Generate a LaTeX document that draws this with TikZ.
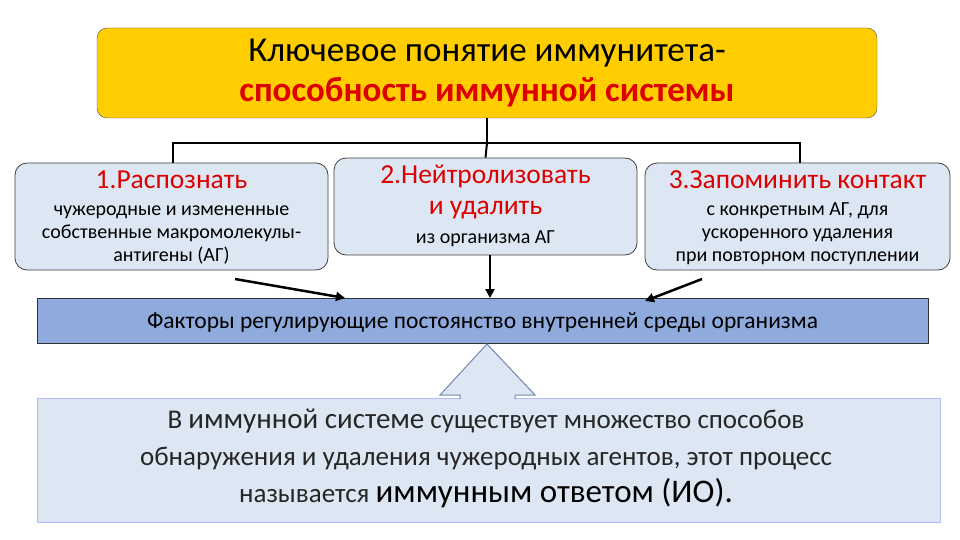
\documentclass[tikz,border=0pt]{standalone}
\usepackage{fontspec}
\setmainfont{Carlito}
\usetikzlibrary{arrows.meta}
\definecolor{ylw}{RGB}{255,205,0}
\definecolor{lb}{RGB}{221,231,243}
\definecolor{bar}{RGB}{143,170,220}
\definecolor{rd}{RGB}{220,0,0}
\begin{document}
\begin{tikzpicture}[x=1pt,y=-1pt,
  cbox/.style={draw=black!75,fill=lb,rounded corners=12pt,line width=0.8pt},
  conn/.style={line width=2pt,black},
  arr/.style={line width=2.5pt,-{Triangle[length=9pt,width=9pt]}}]
\useasboundingbox (0,0) rectangle (960,540);
\node[draw=black!70,fill=ylw,rounded corners=10pt,minimum width=780pt,minimum height=90pt] (top) at (487,73) {};
\node[font=\fontsize{35}{40}\selectfont,align=center] at (487,73) {Ключевое понятие иммунитета-\\ \textcolor{rd}{\textbf{способность иммунной системы}}};
\node[cbox,minimum width=313pt,minimum height=107pt] (b1) at (171.5,216.5) {};
\node[cbox,minimum width=303pt,minimum height=97pt] (b2) at (485.5,206.5) {};
\node[cbox,minimum width=305pt,minimum height=107pt] (b3) at (797.5,216.5) {};
\node[align=center,font=\fontsize{20}{23}\selectfont] at (171.5,218) {\textcolor{rd}{\fontsize{27.5}{30}\selectfont 1.Распознать}\\[4pt] чужеродные и  измененные\\ собственные макромолекулы-\\ антигены (АГ)};
\node[align=center,font=\fontsize{20}{23}\selectfont] at (485.5,206) {\textcolor{rd}{\fontsize{27.5}{30}\selectfont 2.Нейтролизовать}\\[8pt] \textcolor{rd}{\fontsize{27.5}{30}\selectfont и удалить}\\[6pt] из организма АГ};
\node[align=center,font=\fontsize{20}{23}\selectfont] at (797.5,218) {\textcolor{rd}{\fontsize{27.5}{30}\selectfont 3.Запоминить контакт}\\[4pt] с конкретным АГ, для\\ ускоренного удаления\\ при повторном поступлении};
\coordinate (j) at (487,143);
\draw[conn] (top.south) -- (j);
\draw[conn] (b1.north -| 173,0) |- (j) -| (b3.north -| 800,0);
\draw[conn] (j) -- (b2.north);
\node[draw=black!80,fill=bar,minimum width=891pt,minimum height=45pt,line width=0.8pt] (bar) at (482.5,320.5) {};
\node[font=\fontsize{23.5}{27}\selectfont] at (482.5,322) {Факторы регулирующие постоянство внутренней среды организма};
\draw[arr] (235,279) -- (345,298);
\draw[arr] (b2.south -| 490,0) -- (490,298);
\draw[arr] (702,279) -- (645,301);
\node[draw=lb!60!blue!60,fill=lb,minimum width=903pt,minimum height=124pt,line width=0.8pt] (bot) at (488.5,460) {};
\draw[draw=bar!80!black,fill=lb,line width=1pt] (460,399) -- (460,395) -- (440,395) -- (487,344) -- (535,395) -- (515,395) -- (515,399);
\node[align=center,font=\fontsize{27}{37}\selectfont,text=black!85] at (486,458) {В {\fontsize{29}{37}\selectfont иммунной системе} существует множество способов\\ обнаружения и удаления чужеродных агентов, этот процесс\\ называется {\fontsize{33}{37}\selectfont\textcolor{black}{иммунным ответом (ИО).}}};
\end{tikzpicture}
\end{document}
